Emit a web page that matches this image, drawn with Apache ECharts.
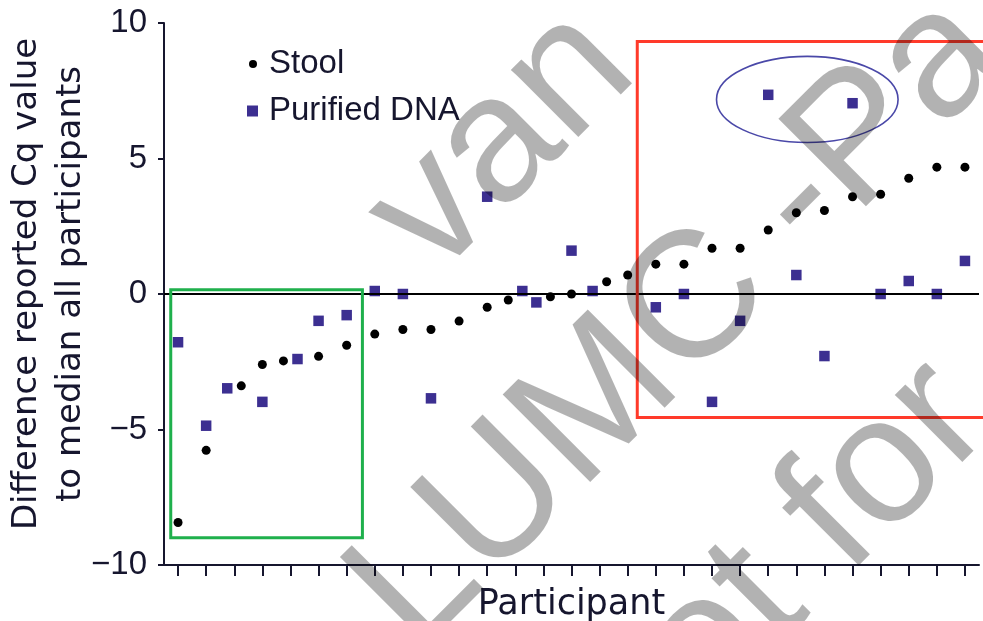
<!DOCTYPE html>
<html><head><meta charset="utf-8">
<script src="https://cdn.jsdelivr.net/npm/echarts@6/dist/echarts.min.js"></script>
<style>html,body{margin:0;padding:0;background:#fff;}#c{width:983px;height:621px;}</style>
</head><body><div id="c"></div>
<script>
// ---- data ----
const participants = [1,2,3,4,5,6,7,8,9,10,11,12,13,14,15,16,17,18,19,20,21,22,23,24,25,26,27,28,29];
const stool = [-8.43,-5.77,-3.39,-2.60,-2.47,-2.30,-1.89,-1.48,-1.31,-1.31,-1.00,-0.49,-0.22,-0.10,0.00,0.45,0.70,1.10,1.10,1.69,1.69,2.36,3.00,3.08,3.59,3.68,4.27,4.68,4.68];
const stoolJitter = [0,0,0.25,0,-0.25,0,0,0,0,0,0,0,-0.25,0.25,0,0.25,0,0,0,0,0,0,0,0,0,0,0,0,0];
const dna = [-1.78,-4.86,-3.48,-3.98,-2.40,-0.99,-0.78,0.11,0.00,-3.85,null,3.59,0.11,-0.31,1.60,0.11,null,-0.49,0.00,-3.98,-0.99,7.35,0.70,-2.29,7.04,0.00,0.48,0.00,1.22];
const dnaJitter = [0,0,-0.25,0,0.25,0,0,0,0,0,0,0,0.25,-0.25,0,-0.25,0,0,0,0,0,0,0,0,0,0,0,0,0];
const yTicks = [-10,-5,0,5,10];
const seriesNames = ['Stool','Purified DNA'];
const watermarkLines = ['van','LUMC -Pa','not for'];

const INK = '#16162e';
const chart = echarts.init(document.getElementById('c'), null, {renderer:'canvas'});

const stoolData = participants.map((p,i)=>[p+stoolJitter[i], stool[i]]);
const dnaData = participants.map((p,i)=> dna[i]===null ? null : [p+dnaJitter[i], dna[i]]).filter(d=>d);

const option = {
  animation:false,
  backgroundColor:'#fff',
  grid:{left:164, right:4, top:23, bottom:56, containLabel:false, outerBoundsMode:'none'},
  legend:[
    {data:[{name:seriesNames[0], icon:'circle'}], orient:'vertical', left:244, top:42,
     itemWidth:8, itemHeight:8, selectedMode:false,
     textStyle:{fontFamily:'Liberation Sans', fontSize:33, color:INK, lineHeight:34, padding:[0,0,0,7]}},
    {data:[{name:seriesNames[1], icon:'rect'}], orient:'vertical', left:242, top:89,
     itemWidth:11, itemHeight:11, selectedMode:false,
     textStyle:{fontFamily:'Liberation Sans', fontSize:33, color:INK, lineHeight:34, padding:[0,0,0,6]}}
  ],
  xAxis:{
    type:'value', min:0.5, max:29.5,
    name:'Participant', nameLocation:'middle', nameGap:22, nameMoveOverlap:false,
    nameTextStyle:{fontFamily:'DejaVu Sans', fontSize:35, color:INK},
    axisLine:{onZero:false, lineStyle:{color:INK, width:2}},
    axisTick:{show:true, inside:false, length:11, customValues:participants, lineStyle:{color:INK, width:2}},
    axisLabel:{show:false},
    splitLine:{show:false}
  },
  yAxis:{
    type:'value', min:yTicks[0], max:yTicks[yTicks.length-1], interval:5,
    name:'Difference reported Cq value\nto median all participants',
    nameLocation:'middle', nameGap:71, nameRotate:90, nameMoveOverlap:false,
    nameTextStyle:{fontFamily:'DejaVu Sans', fontSize:34, lineHeight:44, color:INK, padding:[0,0,0,20]},
    axisLine:{show:true, lineStyle:{color:INK, width:2}},
    axisTick:{show:true, length:6, lineStyle:{color:INK, width:2}},
    axisLabel:{margin:17, fontFamily:'Liberation Sans', fontSize:33, color:INK,
      formatter:v=>String(v).replace('-','\u2212')},
    splitLine:{show:false}
  },
  series:[
    {name:seriesNames[0], type:'scatter', data:stoolData, symbol:'circle', symbolSize:9,
     itemStyle:{color:'#000', opacity:1}, z:4,
     markLine:{silent:true, symbol:'none', label:{show:false}, animation:false,
       lineStyle:{color:'#000', width:2, type:'solid'}, data:[{yAxis:0}]}},
    {name:seriesNames[1], type:'scatter', data:dnaData, symbol:'rect', symbolSize:10.5,
     itemStyle:{color:'#3c2f91', opacity:1}, z:3}
  ]
};
chart.setOption(option);

// annotation shapes defined in data units
const greenBox = {x0:0.74, x1:7.56, y0:-8.99, y1:0.155};
const redBox = {x0:17.34, x1:30.5, y0:-4.56, y1:9.32};
const ellipse = {cx:23.39, cy:7.18, rx:3.23, ry:1.59};

function px(x,y){ return chart.convertToPixel({gridIndex:0},[x,y]); }
function rectFromBox(b){
  const a = px(b.x0,b.y1), c = px(b.x1,b.y0);
  return {x:a[0], y:a[1], width:c[0]-a[0], height:c[1]-a[1]};
}
const ec = px(ellipse.cx, ellipse.cy);
const ex = px(ellipse.cx+ellipse.rx, ellipse.cy);
const ey = px(ellipse.cx, ellipse.cy+ellipse.ry);

const wmAnchors = [[400,245],[382,620],[600,754]];
const graphics = [
  {type:'rect', silent:true, z:10, shape:rectFromBox(greenBox), style:{fill:'none', stroke:'#1fb04c', lineWidth:3}},
  {type:'rect', silent:true, z:10, shape:rectFromBox(redBox), style:{fill:'none', stroke:'#ff3a2a', lineWidth:3}},
  {type:'ellipse', silent:true, z:10, shape:{cx:ec[0], cy:ec[1], rx:ex[0]-ec[0], ry:ec[1]-ey[1]}, style:{fill:'none', stroke:'#4a48a8', lineWidth:1.6}}
];
watermarkLines.forEach((t,i)=>{
  graphics.push({type:'text', silent:true, z:100, x:wmAnchors[i][0], y:wmAnchors[i][1], rotation:Math.PI/4,
    style:{text:t, fontFamily:'Liberation Sans', fontSize:180, fill:'rgba(0,0,0,0.3)', align:'left', verticalAlign:'middle'}});
});
chart.setOption({graphic:graphics});
</script></body></html>
